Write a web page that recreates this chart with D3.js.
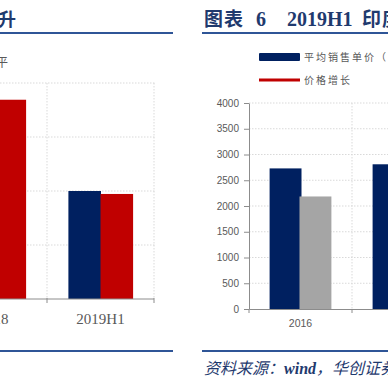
<!DOCTYPE html>
<meta charset="utf-8">
<style>
  body { margin: 0; background: #fff; }
  svg { display: block; }
  .grid line { stroke: #d9d9d9; stroke-dasharray: 1.5 1.5; }
  .axis path, .axis line { stroke: #8c8c8c; }
  .tick text { fill: #595959; }
</style>
<svg width="388" height="388"></svg>
<script src="https://cdn.jsdelivr.net/npm/d3@7"></script>
<script>

  // 左图（只露出右半部分）
  var leftCats = ["2018", "2019H1"];
  var leftNavy = [null, 2000];
  var leftRed = [3690, 1945];
  var leftTicks = [0, 1000, 2000, 3000, 4000];

  // 右图：图表6
  var rightCats = ["2016", "2017"];
  var rightNavy = [2730, 2810];
  var rightGrey = [2185, null];
  var rightTicks = [0, 500, 1000, 1500, 2000, 2500, 3000, 3500, 4000];
  var legendLabels = ["平均销售单价（", "价格增长"];

  var navy = "#002060", red = "#c00000", grey = "#a5a5a5", ink = "#1f3a6e", rule = "#2f5597";

  var svg = d3.select("svg");

  // 标题和分隔线
  svg.append("text").attr("x", 16).attr("y", 26).attr("text-anchor", "end")
        .attr("font-family", "Noto Sans CJK SC").attr("font-weight", "bold")
        .attr("font-size", 18).attr("fill", ink).text("升");
  svg.append("text").attr("x", -4).attr("y", 67)
        .attr("font-family", "Noto Sans CJK SC").attr("font-size", 12)
        .attr("fill", "#595959").text("平");

  var t = svg.append("g").attr("fill", ink).attr("font-weight", "bold");
  t.append("text").attr("x", 204).attr("y", 26).attr("font-family", "Noto Sans CJK SC")
        .attr("font-size", 19).attr("letter-spacing", 1).text("图表");
  t.append("text").attr("x", 256).attr("y", 26).attr("font-family", "Liberation Serif")
        .attr("font-size", 20).text("6");
  t.append("text").attr("x", 287).attr("y", 26).attr("font-family", "Liberation Serif")
        .attr("font-size", 20).text("2019H1");
  t.append("text").attr("x", 362).attr("y", 26).attr("font-family", "Noto Sans CJK SC")
        .attr("font-size", 19).attr("letter-spacing", 1).text("印度");

  [[0, 173], [202, 388]].forEach(function (r) {
    [33, 351].forEach(function (y) {
      svg.append("line").attr("x1", r[0]).attr("x2", r[1]).attr("y1", y).attr("y2", y)
            .attr("stroke", rule).attr("stroke-width", 2);
    });
  });

  var src = svg.append("text").attr("x", 204).attr("y", 374).attr("fill", ink)
        .attr("font-size", 16).attr("font-style", "italic");
  src.append("tspan").attr("font-family", "Noto Sans CJK SC").text("资料来源：");
  src.append("tspan").attr("font-family", "Liberation Serif").attr("font-weight", "bold").text("wind");
  src.append("tspan").attr("font-family", "Noto Sans CJK SC").text("，华创证券");

  // ---------- 左图 ----------
  var xL = d3.scaleBand().domain(leftCats).range([-60, 154]);
  var xL1 = d3.scaleBand().domain([0, 1]).range([xL.bandwidth() * 0.2, xL.bandwidth() * 0.8]);
  var yL = d3.scaleLinear().domain([0, 4000]).range([299, 83]);

  var gL = svg.append("g");
  var gridL = gL.append("g").attr("class", "grid");
  gridL.selectAll(".h").data(leftTicks.slice(1)).enter().append("line")
        .attr("x1", xL.range()[0]).attr("x2", 155)
        .attr("y1", function (d) { return yL(d); }).attr("y2", function (d) { return yL(d); });
  gridL.selectAll(".v").data(leftCats).enter().append("line")
        .attr("x1", function (d) { return xL(d) + xL.step(); })
        .attr("x2", function (d) { return xL(d) + xL.step(); })
        .attr("y1", yL(4000)).attr("y2", yL(0));

  var leftRows = [];
  leftCats.forEach(function (c, i) {
    if (leftNavy[i] != null) leftRows.push({ c: c, k: 0, v: leftNavy[i], col: navy });
    if (leftRed[i] != null) leftRows.push({ c: c, k: 1, v: leftRed[i], col: red });
  });
  gL.selectAll("rect").data(leftRows).enter().append("rect")
        .attr("x", function (d) { return xL(d.c) + xL1(d.k); })
        .attr("width", xL1.bandwidth() + 0.5)
        .attr("y", function (d) { return yL(d.v); })
        .attr("height", function (d) { return yL(0) - yL(d.v); })
        .attr("fill", function (d) { return d.col; });

  var axL = gL.append("g").attr("class", "axis").attr("transform", "translate(0," + yL(0) + ")")
        .call(d3.axisBottom(xL).tickSize(0).tickPadding(16));
  axL.select(".domain").remove();
  axL.append("line").attr("x1", xL.range()[0]).attr("x2", 154).attr("stroke", "#8c8c8c");
  axL.selectAll(".bt").data(leftCats.map(function (c) { return xL(c) + xL.step(); }))
        .enter().append("line")
        .attr("x1", function (d) { return d; }).attr("x2", function (d) { return d; })
        .attr("y1", -1).attr("y2", 4).attr("stroke", "#8c8c8c");
  axL.selectAll(".tick text").attr("font-family", "Liberation Serif").attr("font-size", 15)
        .attr("dy", "0.6em");

  // ---------- 右图 ----------
  var xR = d3.scaleBand().domain(rightCats).range([249, 249 + 103 * rightCats.length]);
  var xR1 = d3.scaleBand().domain([0, 1]).range([xR.bandwidth() * 0.2, xR.bandwidth() * 0.8]);
  var yR = d3.scaleLinear().domain([0, 4000]).range([309, 103]);

  var gR = svg.append("g");
  var gridR = gR.append("g").attr("class", "grid");
  gridR.selectAll(".h").data(rightTicks.slice(1)).enter().append("line")
        .attr("x1", 249).attr("x2", xR.range()[1])
        .attr("y1", function (d) { return yR(d); }).attr("y2", function (d) { return yR(d); });
  gridR.selectAll(".v").data(rightCats).enter().append("line")
        .attr("x1", function (d) { return xR(d) + xR.step(); })
        .attr("x2", function (d) { return xR(d) + xR.step(); })
        .attr("y1", yR(4000)).attr("y2", yR(0));

  var rightRows = [];
  rightCats.forEach(function (c, i) {
    if (rightNavy[i] != null) rightRows.push({ c: c, k: 0, v: rightNavy[i], col: navy });
    if (rightGrey[i] != null) rightRows.push({ c: c, k: 1, v: rightGrey[i], col: grey });
  });
  gR.selectAll("rect").data(rightRows).enter().append("rect")
        .attr("x", function (d) { return xR(d.c) + xR1(d.k) - (d.k ? 1 : 0); })
        .attr("width", xR1.bandwidth() + 1)
        .attr("y", function (d) { return yR(d.v); })
        .attr("height", function (d) { return yR(0) - yR(d.v); })
        .attr("fill", function (d) { return d.col; });

  var ayR = gR.append("g").attr("class", "axis").attr("transform", "translate(249,0)")
        .call(d3.axisLeft(yR).tickValues(rightTicks).tickFormat(d3.format("d"))
              .tickSize(5).tickPadding(5).tickSizeOuter(0));
  ayR.selectAll(".tick text").attr("font-family", "Liberation Sans").attr("font-size", 10);

  var axR = gR.append("g").attr("class", "axis").attr("transform", "translate(0," + yR(0) + ")")
        .call(d3.axisBottom(xR).tickSize(0).tickPadding(11).tickSizeOuter(0));
  axR.selectAll(".bt").data([249].concat(rightCats.map(function (c) { return xR(c) + xR.step(); })))
        .enter().append("line")
        .attr("x1", function (d) { return d; }).attr("x2", function (d) { return d; })
        .attr("y1", 0).attr("y2", 4).attr("stroke", "#8c8c8c");
  axR.selectAll(".tick text").attr("font-family", "Liberation Sans").attr("font-size", 10.5);

  // 图例
  var lg = svg.append("g").attr("font-family", "Noto Sans CJK SC").attr("font-size", 10)
        .attr("fill", "#595959").attr("letter-spacing", 2);
  lg.append("rect").attr("x", 259).attr("y", 53).attr("width", 41).attr("height", 8)
        .attr("rx", 1).attr("fill", navy);
  lg.append("line").attr("x1", 259).attr("x2", 300).attr("y1", 80).attr("y2", 80)
        .attr("stroke", red).attr("stroke-width", 3);
  lg.selectAll("text").data(legendLabels).enter().append("text")
        .attr("x", 304).attr("y", function (d, i) { return 61 + i * 23; })
        .text(function (d) { return d; });

</script>
